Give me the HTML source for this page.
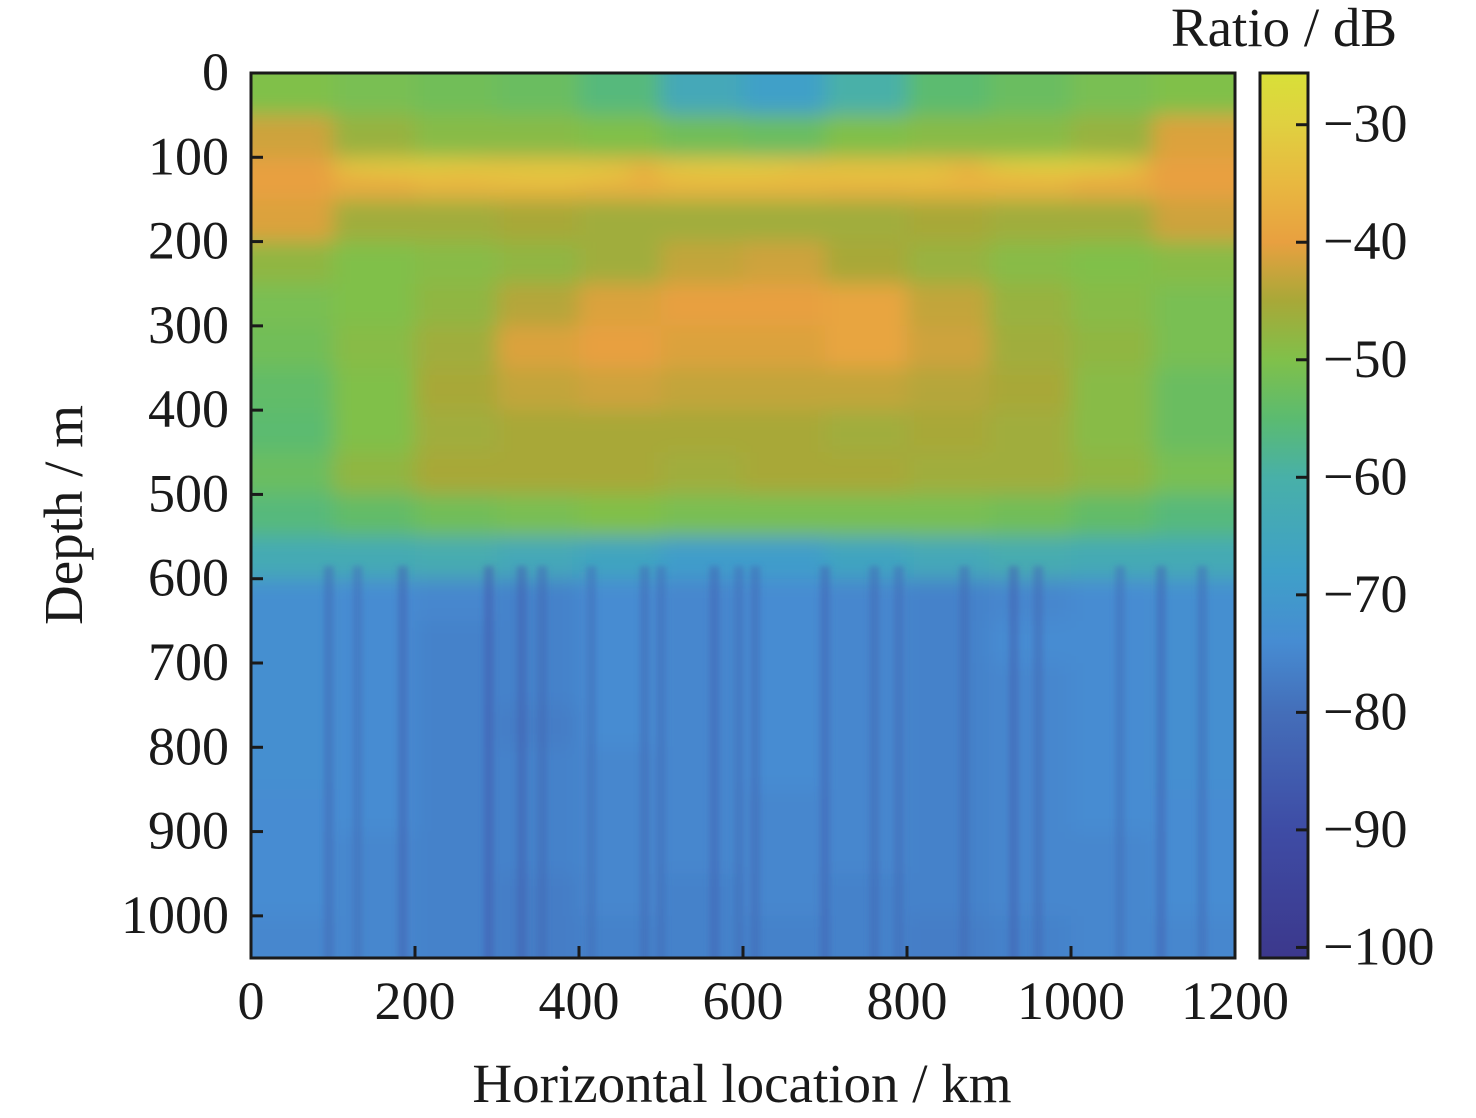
<!DOCTYPE html>
<html><head><meta charset="utf-8"><style>
body{margin:0;background:#fff;}
svg{display:block;font-family:"Liberation Serif",serif;}
</style></head><body>
<svg id="chart" width="1476" height="1118">
<defs>
<clipPath id="pc"><rect x="251" y="73" width="984" height="885"/></clipPath>
<filter id="bl" x="-5%" y="-5%" width="110%" height="110%"><feGaussianBlur stdDeviation="10"/></filter>
<filter id="bl2" x="-50%" y="-5%" width="200%" height="110%"><feGaussianBlur stdDeviation="3"/></filter>
<linearGradient id="cbg" x1="0" y1="1" x2="0" y2="0"></linearGradient>
</defs>
<g clip-path="url(#pc)"><rect x="231" y="53" width="1024" height="925" fill="#4690d4"/><g id="cells" filter="url(#bl)"></g><g id="stripes" filter="url(#bl2)"></g></g>
<rect x="251" y="73" width="984" height="885" fill="none" stroke="#1a1a1a" stroke-width="3"/>
<g id="axes"></g>
<rect x="1260" y="73" width="48" height="885" fill="url(#cbg)" stroke="#1a1a1a" stroke-width="3"/>
<g id="cbaxis"></g>
<text x="742" y="1102" font-size="55" text-anchor="middle" fill="#1a1a1a">Horizontal location / km</text>
<text transform="translate(82,515) rotate(-90)" font-size="55" text-anchor="middle" fill="#1a1a1a">Depth / m</text>
<text x="1284" y="46" font-size="55" text-anchor="middle" fill="#1a1a1a">Ratio / dB</text>
</svg>
<script>
const xTicks=[0,200,400,600,800,1000,1200];
const yTicks=[0,100,200,300,400,500,600,700,800,900,1000];
const cTicks=[-30,-40,-50,-60,-70,-80,-90,-100];
const xCenters=[50,150,250,350,450,550,650,750,850,950,1050,1150];
const depthCenters=[25,75,125,175,225,275,325,375,425,475,525,575,625,675,725,775,825,875,925,975,1025];
const gridValues=[
[-50,-51,-52,-53,-56,-64,-68,-60,-55,-53,-51,-50],
[-42,-47,-49,-49,-50,-52,-53,-50,-49,-49,-47,-41],
[-40,-38,-36,-36,-37,-36,-36,-37,-36,-36,-38,-40],
[-41,-46,-46,-45,-46,-46,-46,-46,-45,-46,-46,-42],
[-48,-50,-49,-48,-46,-43,-42,-45,-47,-49,-50,-49],
[-51,-50,-48,-44,-41,-40,-40,-39,-43,-47,-49,-51],
[-52,-49,-46,-41,-40,-41,-41,-39,-42,-46,-48,-51],
[-54,-50,-45,-43,-42,-43,-43,-43,-44,-45,-49,-53],
[-55,-50,-46,-45,-45,-45,-45,-46,-45,-46,-49,-53],
[-53,-48,-45,-45,-45,-46,-45,-45,-46,-46,-48,-51],
[-56,-54,-52,-51,-50,-51,-51,-51,-51,-52,-54,-56],
[-63,-63,-62,-64,-66,-69,-69,-66,-64,-62,-63,-63],
[-73,-74,-75,-76,-74,-75,-74,-75,-76,-75,-74,-73],
[-73,-74,-76,-76,-74,-75,-74,-75,-76,-74,-74,-73],
[-73,-74,-76,-76,-74,-75,-74,-75,-76,-75,-74,-73],
[-73,-74,-76,-77,-74,-75,-74,-75,-76,-75,-74,-73],
[-73,-74,-76,-76,-75,-75,-74,-75,-76,-75,-74,-73],
[-74,-74,-76,-76,-75,-75,-75,-75,-76,-75,-74,-74],
[-74,-75,-76,-76,-75,-75,-75,-75,-76,-75,-75,-74],
[-74,-75,-76,-77,-75,-76,-75,-76,-76,-75,-75,-74],
[-75,-75,-76,-77,-76,-76,-76,-76,-77,-76,-75,-75]];
const bandDepths=[112,118,115,118,110];
const bandX=[200,370,590,760,990];
const bandVals=[-31,-31,-31,-32,-30];
const stripeX=[95,130,185,290,330,355,415,480,500,565,595,615,700,760,790,870,930,960,1060,1110,1160];
const stripeVals=[-82,-80,-84,-86,-84,-82,-80,-82,-81,-83,-80,-82,-83,-82,-81,-82,-84,-82,-80,-83,-81];
const NS='http://www.w3.org/2000/svg';
const X0=251,X1=1235,Y0=73,Y1=958;
const xs=v=>X0+v/1200*(X1-X0);
const ys=v=>Y0+v/1050*(Y1-Y0);
const CB0=-25.6,CB1=-100.9;
const cs=v=>Y0+(v-CB0)/(CB1-CB0)*(Y1-Y0);
const stops=[[-101,[60,56,140]],[-90,[62,76,165]],[-80,[68,110,185]],[-74,[70,140,210]],[-68,[63,160,200]],[-60,[72,176,168]],[-55,[91,187,112]],[-50,[128,192,74]],[-45,[168,168,56]],[-40,[232,160,64]],[-35,[232,184,64]],[-30,[224,208,64]],[-25.5,[216,224,56]]];
function col(v){if(v<=stops[0][0])return 'rgb('+stops[0][1]+')';for(let i=1;i<stops.length;i++){if(v<=stops[i][0]){const a=stops[i-1],b=stops[i],t=(v-a[0])/(b[0]-a[0]);return 'rgb('+a[1].map((c,k)=>Math.round(c+(b[1][k]-c)*t)).join(',')+')';}}return 'rgb('+stops[stops.length-1][1]+')';}
function mk(tag,attrs,parent){const e=document.createElementNS(NS,tag);for(const k in attrs)e.setAttribute(k,attrs[k]);parent.appendChild(e);return e;}
const cells=document.getElementById('cells');
const cw=100/1200*(X1-X0),ch=50/1050*(Y1-Y0);
gridValues.forEach((row,r)=>row.forEach((v,c)=>{
 let w=cw,h=ch,x=xs(xCenters[c])-cw/2,y=ys(depthCenters[r])-ch/2;
 if(c===0){x-=20;w+=20;} if(c===row.length-1)w+=20; if(r===0){y-=20;h+=20;} if(r===gridValues.length-1)h+=20;
 const e=mk('rect',{x:x,y:y,width:w+0.5,height:h+0.5,fill:col(v)},cells);
 
 
}));
bandX.forEach((bx,i)=>{
 const e=mk('ellipse',{cx:xs(bx),cy:ys(bandDepths[i]),rx:85,ry:9,fill:col(bandVals[i])},cells);
 
 
});
const st=document.getElementById('stripes');
stripeX.forEach((sx,i)=>{
 const e=mk('rect',{x:xs(sx)-5,y:ys(585),width:10,height:Y1-ys(585)+10,fill:col(stripeVals[i]),opacity:0.5},st);
 
 
});
const ax=document.getElementById('axes');
xTicks.forEach(t=>{
 const l=mk('line',{x1:xs(t),x2:xs(t),y1:Y1,y2:Y1-12,stroke:'#1a1a1a','stroke-width':3},ax);
 
 
 const tx=mk('text',{x:xs(t),y:1019,'font-size':54,'text-anchor':'middle',fill:'#1a1a1a'},ax);tx.textContent=t;
 
 
});
yTicks.forEach(t=>{
 const l=mk('line',{x1:X0,x2:X0+12,y1:ys(t),y2:ys(t),stroke:'#1a1a1a','stroke-width':3},ax);
 
 
 const tx=mk('text',{x:229,y:ys(t)+17,'font-size':54,'text-anchor':'end',fill:'#1a1a1a'},ax);tx.textContent=t;
 
 
});
const g=document.getElementById('cbg');
stops.forEach(s=>{const p=Math.max(0,Math.min(1,(s[0]-CB1)/(CB0-CB1)));mk('stop',{offset:p,'stop-color':col(s[0])},g);});
const cb=document.getElementById('cbaxis');
cTicks.forEach(t=>{
 const l=mk('line',{x1:1296,x2:1308,y1:cs(t),y2:cs(t),stroke:'#1a1a1a','stroke-width':3},cb);
 
 
 const tx=mk('text',{x:1323,y:cs(t)+17,'font-size':54,fill:'#1a1a1a'},cb);tx.textContent='\u2212'+Math.abs(t);
 
 
});
</script>
</body></html>
